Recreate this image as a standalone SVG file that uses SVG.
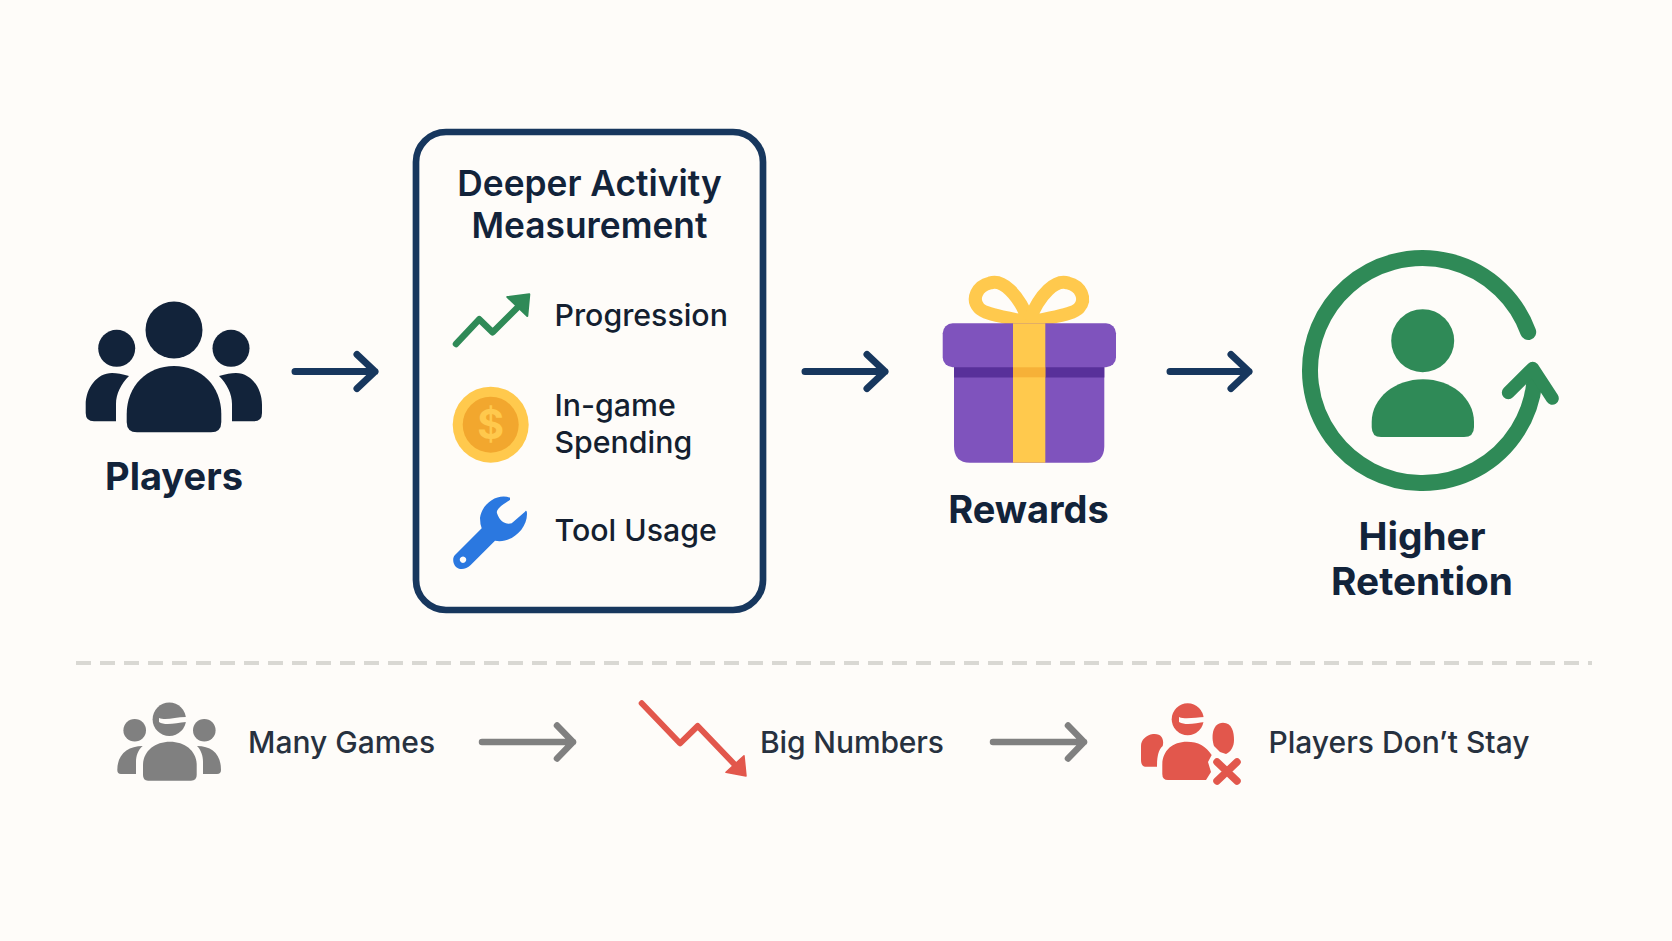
<svg xmlns="http://www.w3.org/2000/svg" width="1672" height="941" viewBox="0 0 1672 941">
<style>
text{font-family:Inter,"Noto Sans","Liberation Sans",sans-serif}
.h{font-size:38px;font-weight:700;fill:#12233a;text-anchor:middle}
.r{font-size:38.800px;font-weight:700;fill:#12233a;text-anchor:middle}
.t{font-size:35.300px;font-weight:600;fill:#12233a;text-anchor:middle}
.i{font-size:30.300px;font-weight:500;fill:#141f30}
.s{font-size:30px;font-weight:500;fill:#27313f}
.a{fill:none;stroke:#17375e;stroke-width:7;stroke-linecap:round;stroke-linejoin:round}
.g{fill:none;stroke:#808080;stroke-width:6.500;stroke-linecap:round;stroke-linejoin:round}
</style>
<rect width="1672" height="941" fill="#fefcf9"/>
<g id="connectors">
<path class="a" d="M295 371.500H375M357 354.500L375 371.500L357 388.500"/>
<path class="a" d="M805 371.500H885M867 354.500L885 371.500L867 388.500"/>
<path class="a" d="M1170 371.500H1249M1231 354.500L1249 371.500L1231 388.500"/>
<path class="g" d="M482 742H573M557 725.500L573 742L557 758.500"/>
<path class="g" d="M993 742H1084M1068 725.500L1084 742L1068 758.500"/>
<path d="M76 663H1592" fill="none" stroke="#d9d8d3" stroke-width="4" stroke-dasharray="15 9"/>
</g>
<g id="players" fill="#12233a">
<circle cx="174" cy="330" r="28.500"/><circle cx="116.700" cy="348.300" r="18.500"/><circle cx="231" cy="348.300" r="18.500"/>
<path d="M126.700 414C126.700 386 147 366 174 366S221.300 386 221.300 414V422Q221.300 432.300 211 432.300H137Q126.700 432.300 126.700 422Z"/>
<path d="M129 376C122 374 117 373 112 373C97 373 85.700 388 85.700 405V413Q85.700 421.300 94 421.300H116V404C116 394 121 384 129 376Z"/>
<path d="M219 376C226 374 231 373 236 373C251 373 262 388 262 405V413Q262 421.300 254 421.300H232V404C232 394 227 384 219 376Z"/>
<text class="h" x="174" y="489.500">Players</text>
</g>
<g id="measurement">
<rect x="416" y="132" width="347" height="478" rx="30" fill="#fefcf9" stroke="#17375e" stroke-width="6.700"/>
<text class="t" x="589.500" y="196">Deeper Activity</text>
<text class="t" x="589.500" y="238">Measurement</text>
</g>
<g id="progression">
<path d="M456 344L479.300 319.300L492.700 332.300L518 307" fill="none" stroke="#2f8a57" stroke-width="6.500" stroke-linecap="round" stroke-linejoin="round"/>
<path d="M507.300 297L529.300 294.300L527.300 316Z" fill="#2f8a57" stroke="#2f8a57" stroke-width="2" stroke-linejoin="round"/>
<text class="i" x="554.500" y="325.500">Progression</text>
</g>
<g id="spending">
<circle cx="490.700" cy="424.700" r="38" fill="#ffc94d"/><circle cx="490.700" cy="424.700" r="28" fill="#f2a72e"/>
<text x="490.700" y="439" font-size="41" font-weight="700" fill="#ffc94d" text-anchor="middle">$</text>
<text class="i" x="554.500" y="416">In-game</text>
<text class="i" x="554.500" y="453">Spending</text>
</g>
<g id="tool">
<path fill-rule="evenodd" fill="#2b78e0" d="M510 497.700C498 493 482 503 480 518Q480 524 481.700 528.300L455 555C452 558 453 564 456 567C459 570 466 570 470.700 565L495 540.700C510 544 527 530 527 514C527 511 526 510 525 511.700L511.700 523.300C506 525 500 522 497 513.300C496 510 500 506 510 500ZM463 556.500a3.200 3.200 0 1 0 .01 0Z"/>
<text class="i" x="554.500" y="541">Tool Usage</text>
</g>
<g id="rewards">
<g fill="none" stroke="#ffc94d" stroke-width="13" stroke-linejoin="round"><path d="M1029 321C1018 293 1002 279 990 283C977 286 971 299 979 308C985 315 1008 317 1029 323"/><path d="M1029 321C1040 293 1056 279 1068 283C1081 286 1087 299 1079 308C1073 315 1050 317 1029 323"/></g>
<path fill="#7f53bd" d="M954 367H1104.300V446Q1104.300 462.700 1088 462.700H970Q954 462.700 954 446Z"/>
<rect x="954" y="367" width="150.300" height="10.500" fill="#58309a"/>
<rect x="942.700" y="323.300" width="173.300" height="44" rx="10" fill="#7f53bd"/>
<rect x="1013" y="323.300" width="32.300" height="139.400" fill="#ffc94d"/>
<rect x="1013" y="367.300" width="32.300" height="10" fill="#f6b138"/>
<text class="h" x="1028.500" y="522.500">Rewards</text>
</g>
<g id="retention" fill="#2f8a57">
<path d="M1528.200 332A112.500 112.500 0 1 0 1534.400 382.300" fill="none" stroke="#2f8a57" stroke-width="16" stroke-linecap="round"/>
<path d="M1508.300 392.700L1532.700 368.300L1552.300 398.300" fill="none" stroke="#2f8a57" stroke-width="13" stroke-linecap="round" stroke-linejoin="round"/>
<circle cx="1422.700" cy="340.700" r="31.500"/>
<path d="M1371.700 427V422C1371.700 398 1395 379.300 1423 379.300S1474 398 1474 422V427Q1474 437 1464 437H1381Q1371.700 437 1371.700 427Z"/>
<text class="r" x="1422" y="549.500">Higher</text>
<text class="r" x="1422" y="594.500">Retention</text>
</g>
<g id="many-games" fill="#808080">
<circle cx="169.300" cy="719.300" r="16.700"/><path d="M159 718C166 721 175 717 186 717L186 722C176 723 165 726 159 722Z" fill="#fefcf9"/>
<circle cx="134.700" cy="730.300" r="11.300"/><circle cx="204.300" cy="730.300" r="11.300"/>
<path d="M143 765C143 751 155 741.700 170 741.700S196.700 751 196.700 765V775Q196.700 780.700 191 780.700H148Q143 780.700 143 775Z"/>
<path d="M142.700 746C128 746 117.300 754 117.300 770Q117.300 774 121 774H136V762C136 756 138 750 142.700 746Z"/>
<path d="M197 746C212 746 221 754 221 770Q221 774 217 774H203V762C203 756 201 750 197 746Z"/>
<text class="s" x="248" y="752.500">Many Games</text>
</g>
<g id="big-numbers">
<path d="M641.700 703.300L680 743.300L697.700 726L737 767" fill="none" stroke="#e2574c" stroke-width="6" stroke-linecap="round" stroke-linejoin="round"/>
<path d="M744 755.700L746 776L726 772.300Z" fill="#e2574c" stroke="#e2574c" stroke-width="1.500" stroke-linejoin="round"/>
<text class="s" x="760" y="752.500" textLength="184" lengthAdjust="spacing">Big Numbers</text>
</g>
<g id="players-dont-stay" fill="#e2574c">
<circle cx="1187.700" cy="719.300" r="16"/><path d="M1179 717C1186 720 1196 717 1205 717V722C1196 723 1186 726 1179 722Z" fill="#fefcf9"/>
<path d="M1162.300 765C1162.300 751 1172 741.700 1187 741.700C1198 741.700 1206 746 1211.700 755L1208 762L1211 772L1206 780H1168Q1162.300 780 1162.300 774Z"/>
<path d="M1153 734C1163 733 1164 741 1162.700 746C1158 750 1157 758 1157 766.700H1145Q1141 766 1141 760V746C1141 740 1146 735 1153 734Z"/>
<path d="M1223 722.700C1232 722.700 1234 732 1234 740C1234 746 1231 752 1226 754L1220 752L1214 746C1211 737 1212 723 1223 722.700Z"/>
<path d="M1217 762L1237 781M1237 762L1217 781" fill="none" stroke="#e2574c" stroke-width="7.500" stroke-linecap="round"/>
<text class="s" x="1268.500" y="752.500">Players Don’t Stay</text>
</g>
</svg>
